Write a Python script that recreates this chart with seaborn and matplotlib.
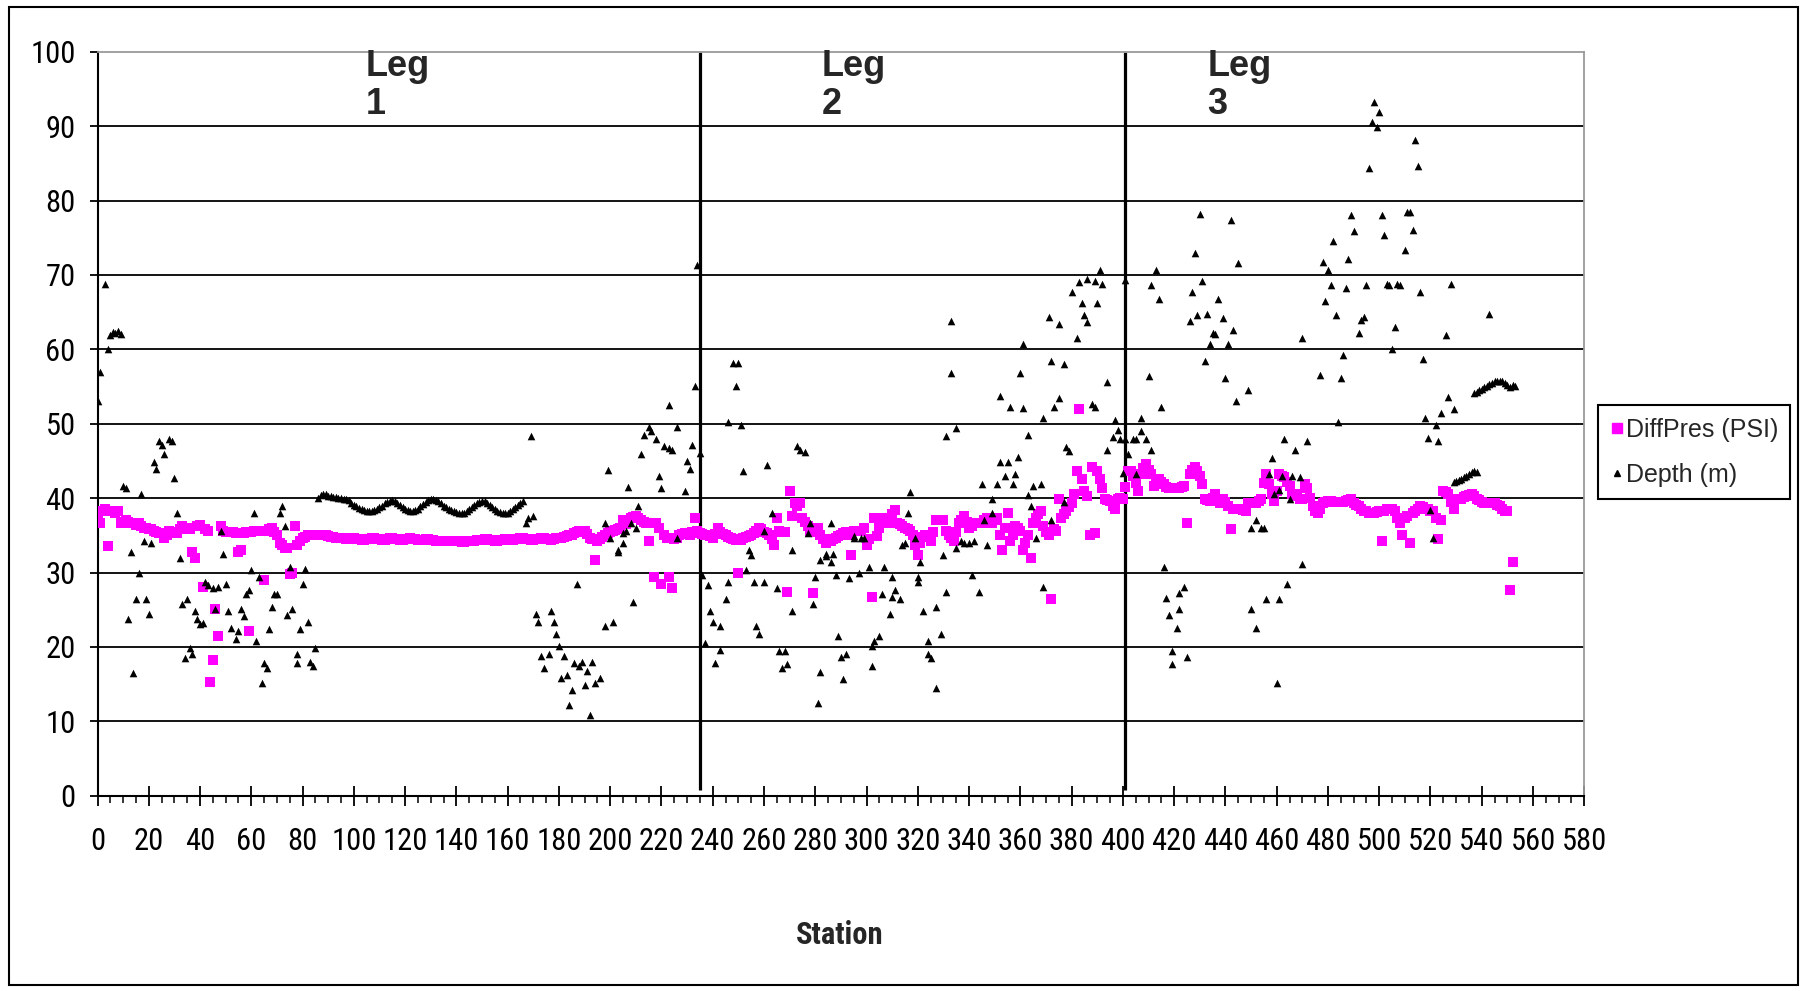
import matplotlib
matplotlib.use("Agg")
import matplotlib.pyplot as plt
from matplotlib import font_manager as fm
from matplotlib.font_manager import FontProperties
from matplotlib.lines import Line2D
from matplotlib.patches import Rectangle
from matplotlib.ticker import MultipleLocator
import pandas as pd
import seaborn as sns

# ---------------------------------------------------------------- data
# Differential pressure (PSI), one reading per station 0..552
diffpres_psi = [
    38.0, 36.6, 38.3, 38.6, 33.5, 38.3, 38.3, 38.0, 38.3, 36.6,
    36.8, 37.0, 36.8, 36.6, 36.6, 36.4, 36.6, 36.2, 36.0, 36.0,
    35.8, 35.8, 35.6, 35.5, 35.3, 35.3, 34.7, 35.0, 35.6, 35.5,
    35.3, 35.3, 35.8, 36.3, 36.0, 36.0, 35.8, 32.7, 32.0, 36.3,
    36.4, 28.0, 35.8, 35.6, 15.3, 18.2, 25.1, 21.5, 36.3, 35.6,
    35.5, 35.5, 35.5, 35.4, 35.3, 32.7, 33.0, 35.3, 35.4, 22.1,
    35.5, 35.6, 35.6, 35.6, 35.6, 29.0, 35.6, 35.8, 36.0, 35.5,
    35.0, 34.0, 33.7, 33.3, 33.3, 29.8, 30.0, 36.3, 33.7, 34.2,
    34.7, 34.8, 35.0, 35.0, 35.0, 35.0, 35.1, 35.1, 35.1, 35.0,
    34.9, 34.8, 34.8, 34.7, 34.7, 34.6, 34.6, 34.5, 34.5, 34.6,
    34.6, 34.5, 34.5, 34.4, 34.4, 34.5, 34.5, 34.6, 34.6, 34.5,
    34.5, 34.4, 34.4, 34.5, 34.6, 34.6, 34.5, 34.5, 34.4, 34.4,
    34.5, 34.5, 34.6, 34.5, 34.5, 34.4, 34.4, 34.4, 34.5, 34.5,
    34.4, 34.4, 34.3, 34.3, 34.3, 34.3, 34.2, 34.2, 34.3, 34.3,
    34.2, 34.2, 34.1, 34.1, 34.2, 34.2, 34.3, 34.3, 34.4, 34.4,
    34.4, 34.5, 34.5, 34.4, 34.4, 34.3, 34.3, 34.4, 34.4, 34.5,
    34.5, 34.4, 34.4, 34.5, 34.5, 34.6, 34.6, 34.5, 34.5, 34.4,
    34.4, 34.5, 34.5, 34.6, 34.6, 34.5, 34.5, 34.4, 34.5, 34.6,
    34.6, 34.7, 34.8, 34.9, 35.0, 35.1, 35.3, 35.5, 35.6, 35.5,
    35.6, 35.2, 34.7, 34.5, 31.7, 34.3, 34.5, 34.8, 35.1, 35.3,
    35.5, 35.6, 35.7, 35.8, 36.0, 37.0, 36.5, 37.0, 37.3, 37.5,
    37.6, 37.3, 37.0, 36.8, 36.7, 34.3, 36.6, 29.4, 36.6, 36.0,
    28.4, 35.0, 34.6, 29.4, 27.9, 34.5, 34.7, 35.0, 35.2, 35.3,
    35.2, 35.0, 35.5, 37.3, 35.6, 35.3, 35.2, 35.1, 35.0, 34.9,
    34.7, 35.2, 36.0, 35.5, 35.2, 35.0, 34.8, 34.7, 34.5, 34.4,
    30.0, 34.4, 34.7, 34.8, 34.9, 35.0, 35.3, 35.6, 36.0, 35.8,
    35.5, 35.3, 35.0, 34.5, 33.7, 37.3, 35.6, 35.4, 35.5, 27.4,
    40.9, 37.6, 39.3, 39.0, 39.3, 37.3, 36.8, 36.2, 35.6, 27.2,
    35.5, 36.0, 35.0, 34.5, 34.0, 34.2, 34.3, 34.5, 34.7, 34.9,
    35.1, 35.3, 35.4, 35.0, 32.3, 35.6, 35.6, 35.6, 35.6, 36.0,
    33.7, 34.5, 26.7, 37.3, 34.9, 36.0, 37.3, 37.0, 36.6, 37.3,
    37.8, 38.4, 36.6, 36.5, 36.3, 36.0, 35.8, 35.6, 35.0, 33.7,
    32.3, 34.0, 34.8, 35.0, 35.0, 34.3, 35.5, 37.0, 37.0, 37.0,
    37.0, 35.6, 35.0, 34.6, 34.3, 35.5, 36.6, 37.0, 37.6, 36.8,
    36.0, 36.2, 36.6, 36.6, 36.6, 36.6, 37.0, 37.3, 37.0, 36.6,
    37.0, 37.3, 35.0, 33.0, 36.0, 38.0, 34.3, 35.0, 36.3, 36.0,
    35.6, 33.0, 34.0, 35.0, 32.0, 36.6, 37.3, 37.8, 38.3, 36.3,
    35.5, 35.0, 26.5, 35.8, 35.6, 39.9, 37.3, 37.8, 38.3, 38.8,
    39.3, 40.6, 43.6, 52.0, 42.6, 41.0, 40.3, 35.1, 44.2, 35.3,
    43.6, 42.6, 41.3, 39.9, 39.7, 39.6, 39.0, 38.6, 39.9, 40.0,
    39.9, 41.5, 43.6, 43.7, 43.0, 42.0, 40.9, 43.2, 44.0, 44.6,
    43.8, 43.2, 41.6, 42.0, 42.6, 42.2, 41.9, 41.5, 41.3, 41.3,
    41.3, 41.3, 41.4, 41.5, 41.6, 36.6, 43.2, 43.8, 44.2, 43.6,
    43.0, 41.9, 39.9, 39.8, 39.6, 40.0, 40.6, 39.8, 39.3, 39.9,
    39.5, 38.9, 35.8, 38.6, 38.6, 38.6, 38.5, 38.4, 38.3, 39.3,
    39.3, 39.3, 39.4, 39.6, 39.9, 42.0, 43.2, 41.9, 40.5, 39.6,
    41.0, 43.2, 43.0, 42.9, 42.2, 41.6, 40.6, 40.3, 40.6, 39.9,
    39.9, 41.9, 41.3, 40.0, 39.0, 38.3, 38.0, 38.6, 39.3, 39.5,
    39.6, 39.6, 39.5, 39.5, 39.5, 39.5, 39.5, 39.6, 39.8, 39.9,
    39.3, 39.1, 38.9, 38.6, 38.3, 38.2, 38.0, 38.0, 38.0, 38.1,
    38.3, 34.3, 38.3, 38.5, 38.6, 38.5, 38.3, 37.3, 36.6, 35.0,
    37.3, 37.6, 34.0, 38.0, 38.3, 38.5, 38.9, 38.8, 38.6, 38.5,
    38.3, 38.3, 37.3, 34.5, 37.0, 40.9, 40.8, 40.6, 39.5, 38.6,
    39.9, 39.9, 39.9, 40.1, 40.3, 40.4, 40.6, 40.3, 39.9, 39.7,
    39.5, 39.4, 39.3, 39.3, 39.3, 39.3, 39.1, 38.9, 38.6, 38.3,
    38.3, 27.6, 31.4,
]
diffpres_station = list(range(len(diffpres_psi)))

# Water depth (m) with its station number
depth_station = [
    0, 1, 3, 4, 5, 6, 7, 8, 9, 10, 11, 12, 13, 14, 15, 16, 17, 18, 19, 20,
    21, 22, 23, 24, 25, 26, 28, 29, 30, 31, 32, 33, 34, 35, 36, 37, 38, 39, 40, 41,
    42, 43, 45, 46, 47, 48, 49, 50, 51, 52, 54, 55, 56, 57, 58, 59, 60, 61, 62, 63,
    64, 65, 66, 67, 68, 69, 70, 71, 72, 73, 74, 75, 76, 78, 78, 79, 80, 81, 82, 83,
    84, 85,
    86, 87, 88, 89, 90, 91, 92, 93, 94, 95, 96, 97, 98, 99, 100, 101, 102, 103, 104, 105,
    106, 107, 108, 109, 110, 111, 112, 113, 114, 115, 116, 117, 118, 119, 120, 121, 122, 123, 124, 125,
    126, 127, 128, 129, 130, 131, 132, 133, 134, 135, 136, 137, 138, 139, 140, 141, 142, 143, 144, 145,
    146, 147, 148, 149, 150, 151, 152, 153, 154, 155, 156, 157, 158, 159, 160, 161, 162, 163, 164, 165,
    166, 167, 168, 169, 170,
    171, 172, 173, 174, 176, 177, 178, 179, 180, 181, 182, 183, 184, 185, 186, 187, 188, 189, 190, 191,
    192, 193, 194, 196, 198, 198, 199, 200, 201, 203, 203, 205, 205, 206, 207, 208, 209, 210, 211, 212,
    213, 215, 216, 218, 219, 220, 221, 223, 223, 224, 226, 226, 229, 230, 231, 232, 233, 234, 235, 236,
    237, 238, 239, 240, 241, 243, 243, 245, 246, 246, 248, 249, 250, 251, 252, 253, 254, 255, 256, 257,
    258, 260, 260, 261, 263, 265, 266, 267, 268, 269, 271, 271, 273, 274, 276, 277, 278, 279, 280, 281,
    282, 282, 284, 284, 286, 286, 287, 288, 289, 290, 291, 292, 293, 295, 295, 297, 298, 299, 301, 302,
    302, 303, 305, 306, 307, 309, 310, 310, 311, 313, 314, 315, 316, 317, 319, 320, 320, 321, 322, 324,
    324, 325, 327, 327, 329, 330, 331, 331, 333, 333, 335, 335, 337, 338, 340, 341, 342, 344, 345, 346,
    347, 349, 349, 351, 352, 352, 354, 355, 356, 357, 358, 359, 360, 361, 361, 363, 363, 364, 365, 366,
    368, 369, 369, 371, 372, 372, 373, 375, 375, 377, 377, 378, 379, 380, 382, 383, 384, 385, 386, 386,
    388, 389, 389, 390, 391, 392, 394, 394, 396, 397, 398, 399, 400, 401, 401, 402, 404, 405, 405, 407,
    407, 409, 410, 411, 411, 413, 414, 415, 416, 417, 418, 419, 419, 421, 422, 422, 424, 425, 426, 427,
    428, 429, 430, 431, 432, 433, 434, 435, 436, 437, 439, 440, 441, 442, 443, 444, 445, 449, 450, 450,
    452, 452, 454, 455, 456, 457, 458, 459, 460, 461, 461, 462, 463, 464, 465, 466, 467, 469, 470, 470,
    472, 477, 478, 479, 480, 481, 482, 483, 484, 485, 486, 487, 488, 489, 490, 492, 493, 494, 495, 496,
    497, 498, 499, 500, 501, 502, 503, 504, 505, 506, 507, 508, 510, 511, 512, 513, 514, 515, 516, 517,
    518, 519, 520, 521, 522, 523, 524, 526, 527, 528, 529,
    529, 530, 531, 532, 533, 534, 535, 536, 537, 538, 543,
    537, 538, 539, 540, 541, 542, 543, 544, 545, 546, 547, 548, 549, 550, 551, 552, 553,
]
depth_m = [
    53.0, 57.0, 68.8, 60.0, 61.9, 62.3, 62.2, 62.4, 62.1, 41.6, 41.4, 23.8, 32.7, 16.5, 26.5, 30.0, 40.6, 34.2, 26.4, 24.4,
    33.9, 44.9, 43.9, 47.7, 47.2, 45.9, 48.0, 47.7, 42.7, 38.0, 32.0, 25.7, 18.5, 26.4, 19.8, 19.1, 24.8, 23.8, 23.1, 23.2,
    28.7, 28.3, 27.9, 25.1, 28.0, 35.6, 32.5, 28.5, 24.8, 22.6, 21.0, 22.1, 25.1, 24.1, 27.1, 27.7, 30.4, 38.0, 20.8, 29.4,
    15.2, 17.8, 17.2, 22.4, 25.4, 27.1, 27.1, 38.0, 39.0, 36.2, 24.3, 30.7, 25.1, 19.1, 17.8, 22.4, 28.5, 30.5, 23.4, 18.0,
    17.5, 19.9,
    40.0, 40.4, 40.6, 40.5, 40.3, 40.3, 40.2, 40.1, 40.0, 40.0, 39.9, 39.9, 39.7, 39.4, 39.1, 38.9, 38.7, 38.5, 38.4, 38.3,
    38.3, 38.3, 38.4, 38.6, 38.8, 39.0, 39.3, 39.5, 39.6, 39.7, 39.6, 39.4, 39.1, 38.8, 38.6, 38.4, 38.3, 38.3, 38.4, 38.6,
    38.9, 39.2, 39.5, 39.7, 39.9, 39.9, 39.8, 39.6, 39.3, 39.0, 38.8, 38.6, 38.4, 38.2, 38.1, 38.0, 38.0, 38.0, 38.2, 38.5,
    38.8, 39.1, 39.3, 39.5, 39.6, 39.6, 39.4, 39.1, 38.8, 38.5, 38.3, 38.1, 38.0, 38.0, 38.0, 38.2, 38.5, 38.8, 39.1, 39.4,
    39.6, 36.6, 37.3, 48.3, 37.6,
    24.4, 23.4, 18.8, 17.2, 19.1, 24.8, 23.4, 21.8, 20.1, 15.8, 18.8, 16.2, 12.2, 14.2, 17.8, 28.5, 17.5, 18.0, 14.9, 16.8,
    10.9, 18.0, 15.2, 15.8, 22.8, 36.6, 43.8, 34.7, 23.4, 32.7, 33.0, 34.0, 35.3, 35.6, 41.5, 36.6, 26.1, 36.0, 38.9, 45.9,
    48.5, 49.5, 49.0, 47.9, 43.0, 41.3, 47.0, 46.7, 52.5, 46.5, 49.5, 34.7, 41.0, 45.0, 43.9, 47.2, 55.1, 71.3, 46.1, 29.6,
    20.5, 28.3, 24.8, 23.4, 17.8, 19.6, 22.8, 26.4, 28.7, 50.2, 58.2, 55.1, 58.2, 49.8, 43.7, 30.4, 33.0, 32.3, 28.7, 22.8,
    21.8, 28.7, 35.6, 44.4, 38.0, 27.9, 19.5, 17.2, 19.5, 17.7, 24.8, 33.0, 47.0, 46.5, 46.2, 35.3, 36.6, 25.7, 29.4, 12.5,
    16.6, 31.7, 32.2, 32.5, 36.6, 31.4, 32.5, 29.7, 21.5, 18.6, 15.7, 19.1, 29.2, 34.7, 34.9, 30.0, 34.7, 34.7, 30.7, 17.5,
    20.1, 20.8, 21.5, 27.1, 30.7, 24.4, 29.4, 26.7, 27.7, 26.4, 33.7, 34.0, 38.0, 40.8, 34.7, 29.4, 28.7, 31.4, 24.8, 19.1,
    20.8, 18.5, 14.5, 25.4, 21.8, 32.3, 27.4, 48.3, 56.8, 63.8, 49.4, 33.3, 34.2, 34.0, 34.0, 29.6, 34.3, 27.4, 41.9, 37.0,
    33.7, 38.0, 39.9, 41.9, 53.7, 44.9, 43.0, 44.9, 52.3, 41.9, 43.2, 45.5, 56.8, 52.1, 60.7, 48.5, 40.4, 38.9, 41.6, 34.7,
    41.9, 28.0, 50.7, 64.4, 37.0, 58.4, 52.3, 63.4, 53.5, 58.0, 39.5, 46.9, 46.3, 67.7, 61.5, 69.0, 66.2, 64.6, 63.7, 69.4,
    52.7, 69.2, 52.3, 66.2, 70.6, 68.8, 46.5, 55.6, 48.2, 50.5, 49.2, 48.0, 43.4, 69.3, 48.0, 45.9, 48.0, 43.2, 47.9, 49.0,
    50.7, 47.9, 56.4, 46.5, 68.6, 70.6, 66.8, 52.3, 30.8, 26.6, 24.3, 19.5, 17.7, 22.6, 25.1, 27.2, 28.1, 18.6, 63.8, 67.7,
    72.9, 64.6, 78.2, 69.2, 58.4, 64.8, 60.7, 62.2, 62.0, 66.8, 64.2, 56.1, 60.7, 77.4, 62.6, 53.1, 71.6, 54.5, 25.1, 36.0,
    22.6, 37.0, 36.0, 36.0, 26.4, 43.2, 45.4, 40.6, 15.2, 26.5, 41.1, 43.0, 48.0, 28.5, 39.9, 43.0, 46.5, 42.9, 31.2, 61.5,
    47.7, 56.6, 71.8, 66.5, 70.6, 68.6, 74.6, 64.6, 50.2, 56.1, 59.3, 68.3, 72.1, 78.0, 75.9, 62.2, 63.9, 64.4, 68.6, 84.4,
    90.6, 93.2, 89.9, 91.9, 78.0, 75.4, 68.8, 68.6, 60.1, 63.0, 68.8, 68.6, 73.3, 78.4, 78.4, 76.1, 88.1, 84.6, 67.7, 58.7,
    50.7, 48.1, 38.4, 34.7, 49.8, 47.7, 51.4, 61.9, 53.6, 68.8, 52.0,
    42.2, 42.3, 42.4, 42.6, 42.8, 43.0, 43.3, 43.5, 43.6, 43.5, 64.8,
    54.1, 54.3, 54.5, 54.7, 54.9, 55.1, 55.3, 55.5, 55.7, 55.8, 55.8, 55.7, 55.5, 55.2, 54.9, 55.2, 55.1,
]

# Stations where one survey leg ends and the next begins
leg_boundaries = [235, 401]
leg_labels = ["Leg\n1", "Leg\n2", "Leg\n3"]

x_ticks = list(range(0, 581, 20))
y_ticks = list(range(0, 101, 10))

pres_df = pd.DataFrame({"Station": diffpres_station, "value": diffpres_psi})
depth_df = pd.DataFrame({"Station": depth_station, "value": depth_m})

# ---------------------------------------------------------------- fonts
sns.set_style("white")
regular = ["Liberation Sans", "DejaVu Sans"]
plt.rcParams["font.family"] = regular


def _weight(entry):
    w = entry.weight
    if isinstance(w, str):
        w = fm.weight_dict.get(w, 400)
    return int(w)


def condensed_font(bold):
    """Path of an installed condensed/narrow sans face, or None."""
    wanted = 700 if bold else 400
    preferred = ["Liberation Sans Narrow", "Arial Narrow", "DejaVu Sans Condensed",
                 "Noto Sans Condensed", "Roboto Condensed", "Open Sans Condensed"]
    entries = fm.fontManager.ttflist
    for name in preferred:
        for e in entries:
            if e.name == name and e.style == "normal" and _weight(e) == wanted:
                return e.fname
    for e in entries:
        key = (e.fname.split("/")[-1] + " " + e.name).lower()
        if ("condensed" in key or "narrow" in key) and "semi" not in key \
                and "extra" not in key and "ultra" not in key \
                and "serif" not in key and "mono" not in key and "cjk" not in key \
                and e.style == "normal" and _weight(e) == wanted:
            return e.fname
    return None


narrow_path = condensed_font(False)
narrow_bold_path = condensed_font(True)
if narrow_path:
    tick_fp = FontProperties(fname=narrow_path, size=22)
else:
    tick_fp = FontProperties(family=regular, size=17)
if narrow_bold_path:
    title_fp = FontProperties(fname=narrow_bold_path, size=22)
else:
    title_fp = FontProperties(family=regular, weight="bold", size=18.5)

# ---------------------------------------------------------------- figure
W, H = 1804, 991
fig = plt.figure(figsize=(W / 100, H / 100), dpi=100)
fig.patch.set_facecolor("white")

ax_left, ax_right = 97.5 / W, 1584.3 / W
ax_top, ax_bottom = 1 - 51.7 / H, 1 - 795.7 / H
ax = fig.add_axes([ax_left, ax_bottom, ax_right - ax_left, ax_top - ax_bottom])
ax.set_facecolor("white")

# horizontal grid lines
for v in y_ticks[1:-1]:
    ax.axhline(v, color="black", lw=1.3, zorder=1)

# leg boundaries
ax.vlines(leg_boundaries, 0.8, 100, colors="black", lw=2.3, zorder=2)

sns.scatterplot(data=pres_df, x="Station", y="value", ax=ax, marker="s",
                color="#FF00FF", s=50, linewidth=0, zorder=3, legend=False)
sns.scatterplot(data=depth_df, x="Station", y="value", ax=ax, marker="^",
                color="black", s=30, linewidth=0, zorder=4, legend=False)

ax.set_xlim(0, 580)
ax.set_ylim(0, 100)
ax.set_xticks(x_ticks)
ax.set_xticklabels([str(t) for t in x_ticks])
ax.xaxis.set_minor_locator(MultipleLocator(5))
ax.set_yticks(y_ticks)
ax.set_yticklabels([str(t) for t in y_ticks])
ax.set_xlabel("")
ax.set_ylabel("")

ax.tick_params(axis="x", which="major", direction="inout", length=14.4, width=1.3,
               color="black", pad=15, bottom=True)
ax.tick_params(axis="x", which="minor", direction="out", length=5, width=1.1,
               color="black", bottom=True)
ax.tick_params(axis="y", which="major", direction="out", length=5.8, width=1.3,
               color="black", pad=10, left=True)
for lab in ax.get_xticklabels() + ax.get_yticklabels():
    lab.set_fontproperties(tick_fp)
    lab.set_color("black")

for side in ("left", "bottom"):
    ax.spines[side].set_color("black")
    ax.spines[side].set_linewidth(1.5)
for side in ("top", "right"):
    ax.spines[side].set_color("#9a9a9a")
    ax.spines[side].set_linewidth(1.3)
    ax.spines[side].set_visible(True)

# leg annotations above each section
for xs, lab in zip([104.5, 282.5, 433], leg_labels):
    ax.text(xs, 100.4, lab, ha="left", va="top", fontsize=26, fontweight="bold",
            family=regular, linespacing=1.12, clip_on=False, zorder=5)

# x-axis title
fig.text(840 / W, 1 - 935 / H, "Station", ha="center", va="center",
         fontproperties=title_fp)

# legend
handles = [
    Line2D([], [], marker="s", color="#FF00FF", linestyle="none", markersize=6.5),
    Line2D([], [], marker="^", color="black", linestyle="none", markersize=5),
]
leg = fig.legend(handles, ["DiffPres (PSI)", "Depth (m)"],
                 loc="upper left", bbox_to_anchor=(1598 / W, 1 - 405 / H),
                 bbox_transform=fig.transFigure, borderaxespad=0,
                 frameon=True, fancybox=False, edgecolor="black", framealpha=1,
                 borderpad=0.5, handlelength=0.5, handletextpad=0.1,
                 labelspacing=0.85, prop={"family": regular, "size": 18})
leg.get_frame().set_linewidth(1.5)

# outer frame of the chart
fig.patches.append(Rectangle((8.5 / W, 1 - 985 / H), (1797.5 - 8.5) / W,
                             (985 - 7) / H, transform=fig.transFigure,
                             fill=False, edgecolor="black", lw=1.5))

fig.savefig("out.png", dpi=100)
